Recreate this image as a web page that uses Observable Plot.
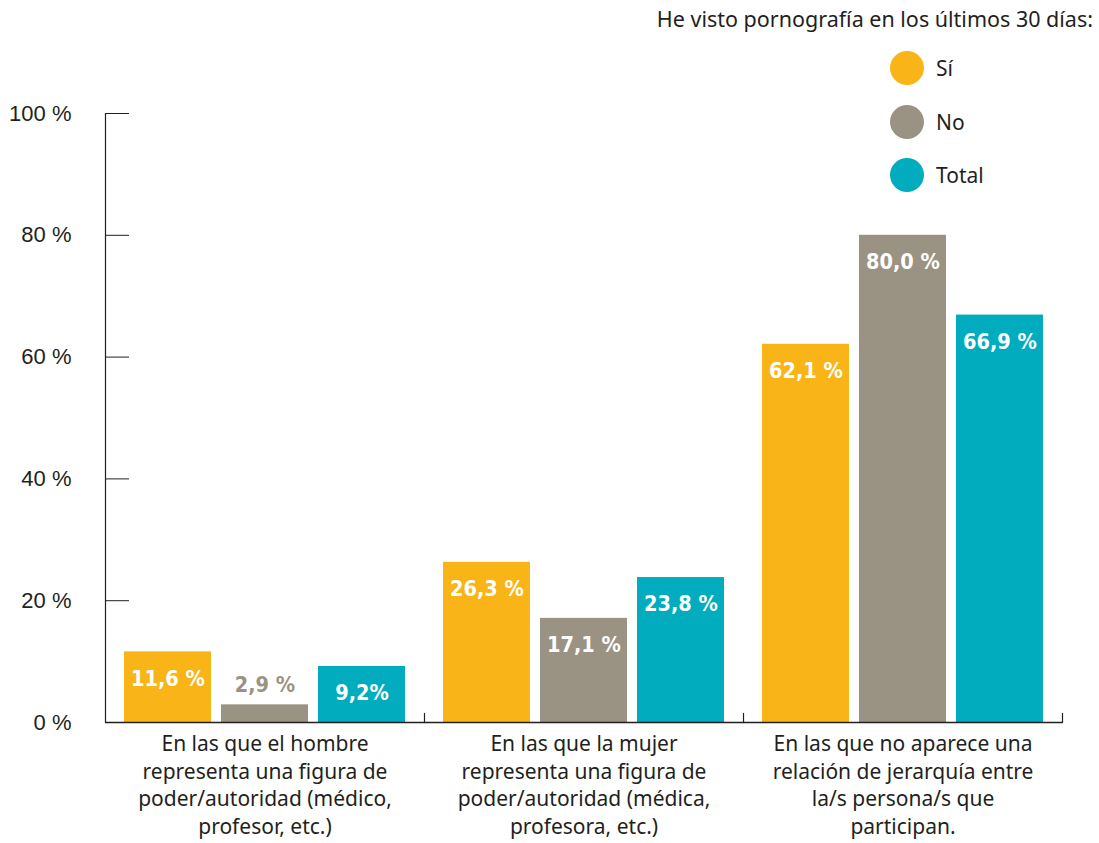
<!DOCTYPE html>
<html><head><meta charset="utf-8">
<script src="https://cdn.jsdelivr.net/npm/d3@7"></script>
<script src="https://cdn.jsdelivr.net/npm/@observablehq/plot@0.6"></script>
<style>
body{margin:0;background:#fff;}
#wrap{position:relative;width:1099px;height:843px;font-family:'Noto Sans',sans-serif;color:#231f20;}
#chart{position:absolute;left:0;top:0;}
#ltitle{position:absolute;right:6px;top:4px;font-size:21.5px;white-space:nowrap;}
.li{position:absolute;left:890px;height:34px;display:flex;align-items:center;font-size:21px;}
.li span.dot{display:inline-block;width:34px;height:34px;border-radius:50%;margin-right:12px;}
</style></head><body><div id="wrap"><div id="chart"></div><div id="legend"></div></div>
<script>
const categories = [
  "En las que el hombre\nrepresenta una figura de\npoder/autoridad (médico,\nprofesor, etc.)",
  "En las que la mujer\nrepresenta una figura de\npoder/autoridad (médica,\nprofesora, etc.)",
  "En las que no aparece una\nrelación de jerarquía entre\nla/s persona/s que\nparticipan."
];
const series = ["Sí", "No", "Total"];
const colors = ["#F9B418", "#9A9384", "#00ACBD"];
const valuesSi = [11.6, 26.3, 62.1];
const valuesNo = [2.9, 17.1, 80.0];
const valuesTotal = [9.2, 23.8, 66.9];
const labelsSi = ["11,6 %", "26,3 %", "62,1 %"];
const labelsNo = ["2,9 %", "17,1 %", "80,0 %"];
const labelsTotal = ["9,2%", "23,8 %", "66,9 %"];
const yTicks = [0, 20, 40, 60, 80, 100];
const legendTitle = "He visto pornografía en los últimos 30 días:";

const seriesValues = [valuesSi, valuesNo, valuesTotal];
const seriesLabels = [labelsSi, labelsNo, labelsTotal];
const data = [];
categories.forEach((c, i) => series.forEach((s, j) => data.push({
  category: c, series: s, value: seriesValues[j][i], label: seriesLabels[j][i]
})));
const inside = data.filter(d => d.value >= 5);
const outside = data.filter(d => d.value < 5);

const labelFont = {fontFamily: "'DejaVu Sans Condensed', sans-serif", fontWeight: "bold", fontSize: 21.5};

const chart = Plot.plot({
  width: 1099, height: 843,
  marginLeft: 104, marginRight: 37, marginTop: 113, marginBottom: 121,
  style: {fontFamily: "'Noto Sans', sans-serif", color: "#231f20", background: "#fff"},
  fx: {domain: categories, padding: 0, label: null},
  x: {domain: series, paddingInner: 0.1, paddingOuter: 0.18, axis: null},
  y: {domain: [0, 100], label: null},
  color: {domain: series, range: colors},
  marks: [
    Plot.barY(data, {fx: "category", x: "series", y: "value", fill: "series"}),
    Plot.ruleY([0], {stroke: "#231f20", strokeWidth: 1.3}),
    Plot.frame({anchor: "left", facetAnchor: "left", stroke: "#231f20", strokeWidth: 1.2}),
    Plot.frame({anchor: "right", insetTop: 600, stroke: "#231f20", strokeWidth: 1.2}),
    Plot.axisY({ticks: yTicks, tickSize: 24, dx: 24, tickPadding: 34, tickFormat: d => d + " %",
      fontSize: 22, fontFamily: "'Liberation Sans', Arial, sans-serif", label: null, stroke: "#231f20"}),
    Plot.axisFx({anchor: "bottom", tickSize: 0, tickPadding: 9, fontSize: 21, lineHeight: 1.31, label: null}),
    Plot.text(inside, {fx: "category", x: "series", y: "value", text: "label", dy: 27, fill: "white", lineAnchor: "middle", ...labelFont}),
    Plot.text(outside, {fx: "category", x: "series", y: "value", text: "label", dy: -20, fill: "#9A9384", lineAnchor: "middle", ...labelFont})
  ]
});
document.getElementById("chart").appendChild(chart);

const legend = document.getElementById("legend");
const t = document.createElement("div");
t.id = "ltitle"; t.textContent = legendTitle;
legend.appendChild(t);
series.forEach((s, i) => {
  const it = document.createElement("div");
  it.className = "li";
  it.style.top = (51 + i * 53.5) + "px";
  const dot = document.createElement("span");
  dot.className = "dot"; dot.style.background = colors[i];
  it.appendChild(dot);
  it.appendChild(document.createTextNode(s));
  legend.appendChild(it);
});
</script></body></html>
